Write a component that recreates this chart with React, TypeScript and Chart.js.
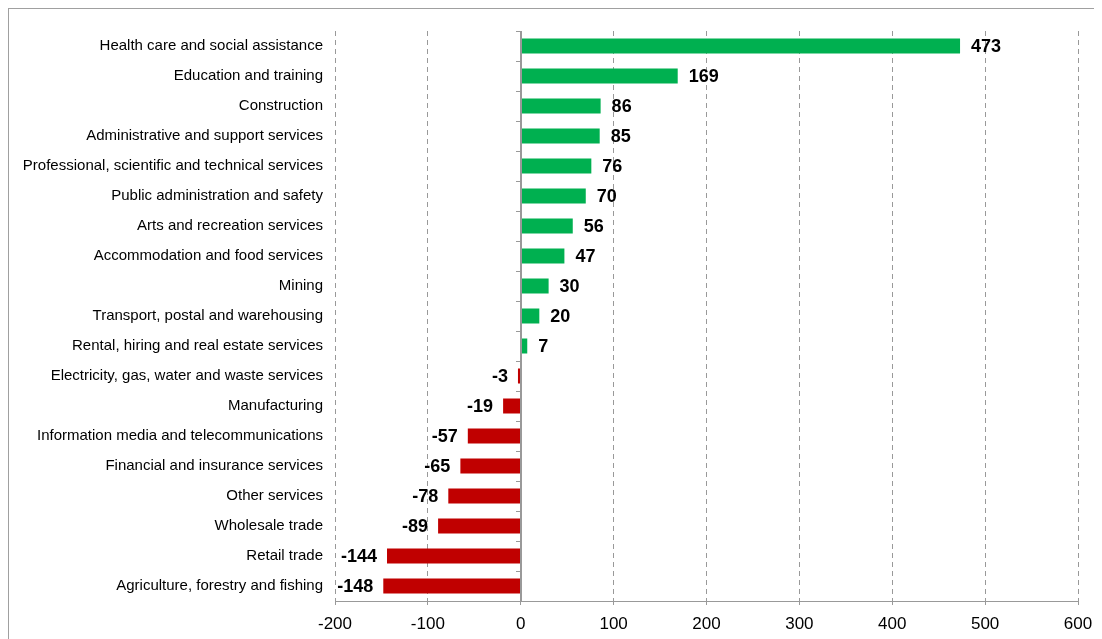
import React, { useEffect, useRef } from "react";
import { Chart, registerables } from "chart.js";

Chart.register(...registerables);

const categories: string[] = [
  "Health care and social assistance",
  "Education and training",
  "Construction",
  "Administrative and support services",
  "Professional, scientific and technical services",
  "Public administration and safety",
  "Arts and recreation services",
  "Accommodation and food services",
  "Mining",
  "Transport, postal and warehousing",
  "Rental, hiring and real estate services",
  "Electricity, gas, water and waste services",
  "Manufacturing",
  "Information media and telecommunications",
  "Financial and insurance services",
  "Other services",
  "Wholesale trade",
  "Retail trade",
  "Agriculture, forestry and fishing",
];

const values: number[] = [473, 169, 86, 85, 76, 70, 56, 47, 30, 20, 7, -3, -19, -57, -65, -78, -89, -144, -148];

const xTicks: number[] = [-200, -100, 0, 100, 200, 300, 400, 500, 600];

const GREEN = "#00B050";
const RED = "#C00000";
const AXIS = "#999999";

const overlayPlugin = {
  id: "overlay",
  afterDatasetsDraw(chart: any) {
    const ctx = chart.ctx;
    const xs = chart.scales.x;
    const area = chart.chartArea;
    const x0 = Math.round(xs.getPixelForValue(0));
    ctx.save();
    ctx.strokeStyle = AXIS;
    ctx.setLineDash([]);
    ctx.lineWidth = 2;
    ctx.beginPath();
    ctx.moveTo(x0, area.top);
    ctx.lineTo(x0, area.bottom);
    ctx.stroke();
    ctx.lineWidth = 1;
    ctx.beginPath();
    const n = categories.length;
    for (let i = 0; i <= n; i++) {
      const yb = Math.round(area.top + (i * (area.bottom - area.top)) / n) + 0.5;
      ctx.moveTo(x0 - 5, yb);
      ctx.lineTo(x0, yb);
    }
    ctx.stroke();

    const meta = chart.getDatasetMeta(0);
    ctx.fillStyle = "#000";
    ctx.font = "bold 18px 'Liberation Sans', Arial, sans-serif";
    ctx.textBaseline = "middle";
    meta.data.forEach((bar: any, i: number) => {
      const v = values[i];
      const txt = String(v);
      if (v >= 0) {
        ctx.textAlign = "left";
        ctx.fillText(txt, bar.x + 11, bar.y + 1);
      } else {
        ctx.textAlign = "right";
        ctx.fillText(txt, bar.x - 10, bar.y + 1);
      }
    });
    ctx.restore();
  },
};

export default function App() {
  const ref = useRef<HTMLCanvasElement | null>(null);
  useEffect(() => {
    if (!ref.current) return;
    const chart = new Chart(ref.current, {
      type: "bar",
      data: {
        labels: categories,
        datasets: [
          {
            data: values,
            backgroundColor: values.map((v) => (v >= 0 ? GREEN : RED)),
            barPercentage: 0.5,
            categoryPercentage: 1,
          },
        ],
      },
      options: {
        indexAxis: "y",
        animation: false,
        responsive: true,
        maintainAspectRatio: false,
        layout: { padding: { left: 0, top: 22, right: 24, bottom: 0 } },
        plugins: { legend: { display: false }, tooltip: { enabled: false } },
        scales: {
          x: {
            min: -200,
            max: 600,
            afterBuildTicks: (s: any) => {
              s.ticks = xTicks.map((v) => ({ value: v }));
            },
            afterFit: (s: any) => {
              s.height = 38;
            },
            ticks: {
              color: "#000",
              font: { family: "'Liberation Sans', Arial, sans-serif", size: 17 },
              padding: 9,
              maxRotation: 0,
            },
            grid: {
              color: AXIS,
              tickColor: AXIS,
              tickLength: 4,
              tickBorderDash: [],
              drawTicks: true,
            },
            border: { display: true, color: AXIS, width: 1, dash: [5, 4] },
          },
          y: {
            afterFit: (s: any) => {
              s.width = 326;
            },
            ticks: {
              color: "#000",
              font: { family: "'Liberation Sans', Arial, sans-serif", size: 15 },
              padding: 12,
              autoSkip: false,
            },
            grid: { display: false, drawTicks: false },
            border: { display: false },
          },
        },
      },
      plugins: [overlayPlugin],
    });
    return () => chart.destroy();
  }, []);

  return (
    <div
      style={{
        width: 1093,
        height: 630,
        borderTop: "1px solid #a0a0a0",
        borderLeft: "1px solid #a0a0a0",
        position: "relative",
      }}
    >
      <canvas ref={ref} />
    </div>
  );
}
